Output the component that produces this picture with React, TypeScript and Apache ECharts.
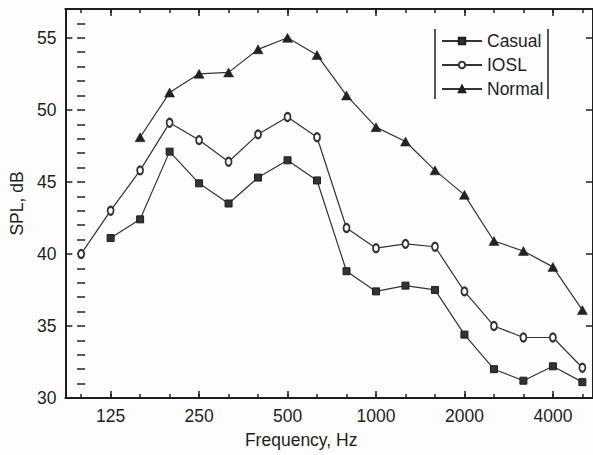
import React, { useEffect, useRef } from "react";
import * as echarts from "echarts";

const frequencies = ["100", "125", "160", "200", "250", "315", "400", "500", "630", "800", "1000", "1250", "1600", "2000", "2500", "3150", "4000", "5000"];
const tickLabels = ["125", "250", "500", "1000", "2000", "4000"];

const casual = [null, 41.1, 42.4, 47.1, 44.9, 43.5, 45.3, 46.5, 45.1, 38.8, 37.4, 37.8, 37.5, 34.4, 32.0, 31.2, 32.2, 31.1];
const iosl = [40.0, 43.0, 45.8, 49.1, 47.9, 46.4, 48.3, 49.5, 48.1, 41.8, 40.4, 40.7, 40.5, 37.4, 35.0, 34.2, 34.2, 32.1];
const normal = [null, null, 48.1, 51.2, 52.5, 52.6, 54.2, 55.0, 53.8, 51.0, 48.8, 47.8, 45.8, 44.1, 40.9, 40.2, 39.1, 36.1];

const yMajor = [30, 35, 40, 45, 50, 55];
const yMinor = Array.from({ length: 28 }, (_, i) => 30 + i);

const X_MIN = -0.535;
const X_MAX = 17.36;
const Y_MIN = 30;
const Y_MAX = 57;

const FONT = "'Liberation Sans', Arial, sans-serif";
const INK = "#1e1e1e";

export default function App() {
  const ref = useRef<HTMLDivElement>(null);

  useEffect(() => {
    if (!ref.current) return;
    const chart = echarts.init(ref.current, null, { renderer: "svg" });

    const allIdx = frequencies.map((_, i) => i);
    const majorIdx = tickLabels.map((t) => frequencies.indexOf(t));

    const toData = (arr: (number | null)[]) =>
      arr.map((v, i) => (v === null ? null : [i, v])).filter((d) => d !== null);

    const baseX = {
      type: "value" as const,
      min: X_MIN,
      max: X_MAX,
      splitLine: { show: false },
      axisLine: { show: false },
      axisLabel: { show: false },
    };
    const baseY = {
      type: "value" as const,
      min: Y_MIN,
      max: Y_MAX,
      splitLine: { show: false },
      axisLine: { show: false },
      axisLabel: { show: false },
    };
    const lineStyleAxis = { show: true, lineStyle: { color: INK, width: 2 } };

    const option = {
      animation: false,
      backgroundColor: "#fdfdfd",
      grid: { left: 61, top: 9, right: -4, bottom: 57, containLabel: false },
      xAxis: [
        {
          ...baseX,
          position: "bottom",
          axisLine: { ...lineStyleAxis, onZero: false },
          axisTick: { show: true, inside: true, length: 7, customValues: majorIdx, lineStyle: { color: INK, width: 1.5 } },
          axisLabel: {
            show: true,
            customValues: majorIdx,
            formatter: (v: number) => frequencies[Math.round(v)] ?? "",
            fontSize: 17.5,
            fontFamily: FONT,
            color: INK,
            margin: 9,
          },
          name: "Frequency, Hz",
          nameLocation: "middle",
          nameGap: 33,
          nameTextStyle: { fontSize: 17.5, fontFamily: FONT, color: INK, padding: [0, 56, 0, 0] },
        },
        {
          ...baseX,
          position: "bottom",
          axisTick: { show: true, inside: true, length: 4, customValues: allIdx, lineStyle: { color: INK, width: 1.5 } },
        },
        {
          ...baseX,
          position: "top",
          axisLine: { ...lineStyleAxis, onZero: false },
          axisTick: { show: true, inside: true, length: 7, customValues: majorIdx, lineStyle: { color: INK, width: 1.5 } },
        },
        {
          ...baseX,
          position: "top",
          axisTick: { show: true, inside: true, length: 4, customValues: allIdx, lineStyle: { color: INK, width: 1.5 } },
        },
      ],
      yAxis: [
        {
          ...baseY,
          position: "left",
          axisLine: { ...lineStyleAxis, onZero: false },
          axisTick: { show: true, inside: true, length: 7, customValues: yMajor, lineStyle: { color: INK, width: 1.5 } },
          axisLabel: {
            show: true,
            customValues: yMajor,
            fontSize: 17.5,
            fontFamily: FONT,
            color: INK,
            margin: 9,
          },
          name: "SPL, dB",
          nameLocation: "middle",
          nameGap: 34,
          nameTextStyle: { fontSize: 17.5, fontFamily: FONT, color: INK },
        },
        {
          ...baseY,
          position: "left",
          axisTick: { show: true, inside: true, length: 4, customValues: yMinor, lineStyle: { color: INK, width: 1.5 } },
        },
        {
          ...baseY,
          position: "right",
          axisLine: { ...lineStyleAxis, onZero: false },
          axisTick: { show: true, inside: true, length: 7, customValues: yMajor, lineStyle: { color: INK, width: 1.5 } },
        },
        {
          ...baseY,
          position: "right",
          axisTick: { show: true, inside: true, length: 4, customValues: yMinor, lineStyle: { color: INK, width: 1.5 } },
        },
      ],
      legend: {
        orient: "vertical",
        left: 441,
        top: 31,
        padding: 0,
        itemWidth: 40,
        itemHeight: 8,
        itemGap: 4,
        data: ["Casual", "IOSL", "Normal"],
        textStyle: { fontSize: 17.5, lineHeight: 20, fontFamily: FONT, color: INK },
      },
      graphic: [
        { type: "line", shape: { x1: 435, y1: 29, x2: 435, y2: 99 }, style: { stroke: INK, lineWidth: 1.5 } },
        { type: "line", shape: { x1: 548, y1: 29, x2: 548, y2: 99 }, style: { stroke: INK, lineWidth: 1.5 } },
      ],
      series: [
        {
          name: "Casual",
          type: "line",
          xAxisIndex: 0,
          yAxisIndex: 0,
          data: toData(casual),
          symbol: "rect",
          symbolSize: 7,
          itemStyle: { color: "#333", borderColor: INK, borderWidth: 1 },
          lineStyle: { color: "#333", width: 1.2 },
        },
        {
          name: "IOSL",
          type: "line",
          xAxisIndex: 0,
          yAxisIndex: 0,
          data: toData(iosl),
          symbol: "emptyCircle",
          symbolSize: [6, 8],
          itemStyle: { color: "#333", borderColor: "#333", borderWidth: 1 },
          lineStyle: { color: "#333", width: 1.2 },
        },
        {
          name: "Normal",
          type: "line",
          xAxisIndex: 0,
          yAxisIndex: 0,
          data: toData(normal),
          symbol: "triangle",
          symbolSize: [10, 9],
          itemStyle: { color: "#222", borderColor: INK, borderWidth: 0.5 },
          lineStyle: { color: "#333", width: 1.2 },
        },
      ],
    };

    chart.setOption(option as any);
    return () => chart.dispose();
  }, []);

  return (
    <div
      ref={ref}
      style={{ position: "absolute", left: 0, top: 0, width: 593, height: 455 }}
    />
  );
}
